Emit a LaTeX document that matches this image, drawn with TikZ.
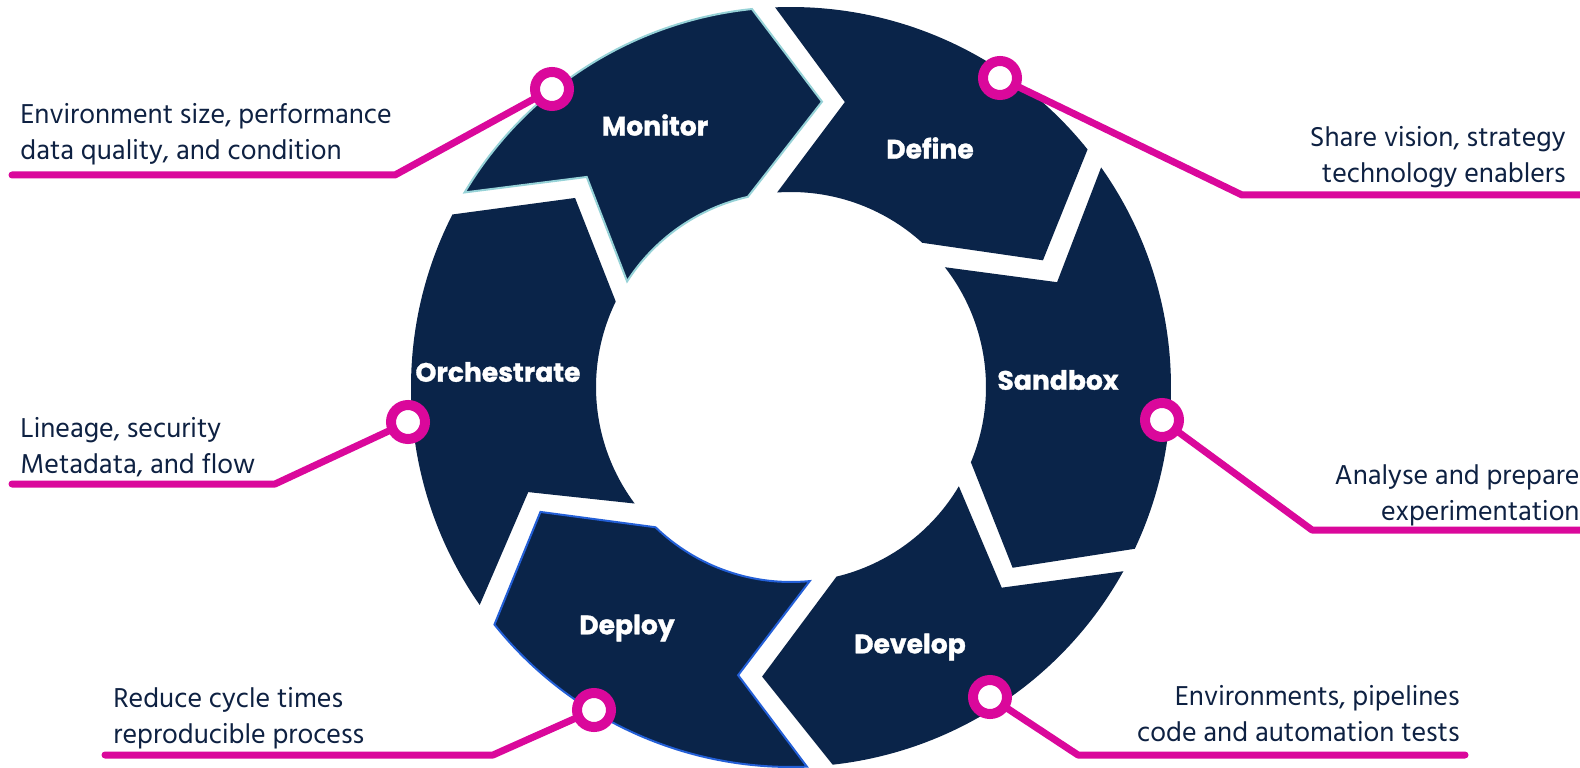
\documentclass[tikz,border=0pt]{standalone}
\usepackage{fontspec}
\setmainfont{Hind Madurai}
\newfontfamily\segfont{Poppins}[BoldFeatures={FakeBold=1.2}]
\definecolor{navy}{RGB}{10,36,73}
\definecolor{mag}{RGB}{218,8,155}
\definecolor{txt}{RGB}{14,33,66}
\definecolor{edgeteal}{RGB}{150,210,215}
\definecolor{edgeblue}{RGB}{35,95,215}
\begin{document}
\begin{tikzpicture}[x=0.5pt,y=0.5pt,
  seg/.style={fill=navy},
  seglabel/.style={text=white,font=\segfont\bfseries\fontsize{13.3}{15}\selectfont},
  note/.style={text=txt,font=\fontsize{14}{18}\selectfont,inner sep=0pt},
  dot/.style={circle,draw=mag,line width=5pt,fill=white,minimum size=17pt,inner sep=0pt,outer sep=0pt},
  link/.style={draw=mag,line width=3.5pt,line join=round,line cap=round}]
\useasboundingbox (0,0) rectangle (1580,767);
\fill[white] (0,0) rectangle (1580,767);

\begin{scope}[shift={(791,380)}]
 % Monitor
 \path[seg,draw=edgeteal,line width=1pt] (149.2:380) arc[start angle=149.2,end angle=95.9,radius=380] -- (83.8:287) -- (102.8:195) arc[start angle=102.8,end angle=147.2,radius=195] -- (134.2:293) -- cycle;
 % Define
 \path[seg] (92.4:380) arc[start angle=92.4,end angle=38.7,radius=380] -- (26.7:282) -- (47.7:195) arc[start angle=47.7,end angle=94.1,radius=195] -- (79.3:290) -- cycle;
 % Sandbox
 \path[seg] (35.3:380) arc[start angle=35.3,end angle=-25.2,radius=380] -- (-39.2:286) -- (-22.7:195) arc[start angle=-22.7,end angle=37.9,radius=195] -- (21.5:286) -- cycle;
 % Develop
 \path[seg] (-29:380) arc[start angle=-29,end angle=-83.7,radius=380] -- (-95.7:291) -- (-76.5:195) arc[start angle=-76.5,end angle=-30.6,radius=195] -- (-43.6:291) -- cycle;
 % Deploy
 \path[seg,draw=edgeblue,line width=1pt] (-87.6:380) arc[start angle=-87.6,end angle=-141.3,radius=380] -- (-153.5:280) -- (-134:195) arc[start angle=-134,end angle=-84.5,radius=195] -- (-100.4:293) -- cycle;
 % Orchestrate
 \path[seg] (-145:380) arc[start angle=-145,end angle=-207,radius=380] -- (-221.2:287) -- (-206:195) arc[start angle=-206,end angle=-143.3,radius=195] -- (-158.2:283) -- cycle;
\end{scope}

\node[seglabel] (lmon) at (655,642) {Monitor};
\node[seglabel] (ldef) at (930,619) {Define};
\node[seglabel] (lsan) at (1058,387) {Sandbox};
\node[seglabel] (lorc) at (498,395) {Orchestrate};
\node[seglabel] (ldep) at (627,139) {Deploy};
\node[seglabel] (ldev) at (910,120) {Develop};

\node[dot] (d1) at (552,678) {};
\node[dot] (d2) at (1000,689) {};
\node[dot] (d3) at (408,345) {};
\node[dot] (d4) at (1162,347) {};
\node[dot] (d5) at (594,57) {};
\node[dot] (d6) at (990,70) {};

\coordinate (k1) at (395,592); \coordinate (e1) at (12,592);
\coordinate (k2) at (1242,572); \coordinate (e2) at (1590,572);
\coordinate (k3) at (275,283); \coordinate (e3) at (12,283);
\coordinate (k4) at (1312,237); \coordinate (e4) at (1590,237);
\coordinate (k5) at (493,12); \coordinate (e5) at (105,12);
\coordinate (k6) at (1078,12); \coordinate (e6) at (1465,12);

\draw[link] (d1) -- (k1) -- (e1);
\draw[link] (d2) -- (k2) -- (e2);
\draw[link] (d3) -- (k3) -- (e3);
\draw[link] (d4) -- (k4) -- (e4);
\draw[link] (d5) -- (k5) -- (e5);
\draw[link] (d6) -- (k6) -- (e6);

\node[note,anchor=west,align=left] (t1) at (20,633) {Environment size, performance\\data quality, and condition};
\node[note,anchor=east,align=right] (t2) at (1566,610) {Share vision, strategy\\technology enablers};
\node[note,anchor=west,align=left] (t3) at (20,320) {Lineage, security\\Metadata, and flow};
\node[note,anchor=east,align=right] (t4) at (1580,272) {Analyse and prepare\\experimentation};
\node[note,anchor=west,align=left] (t5) at (113,49) {Reduce cycle times\\reproducible process};
\node[note,anchor=east,align=right] (t6) at (1460,53) {Environments, pipelines\\code and automation tests};
\end{tikzpicture}
\end{document}
